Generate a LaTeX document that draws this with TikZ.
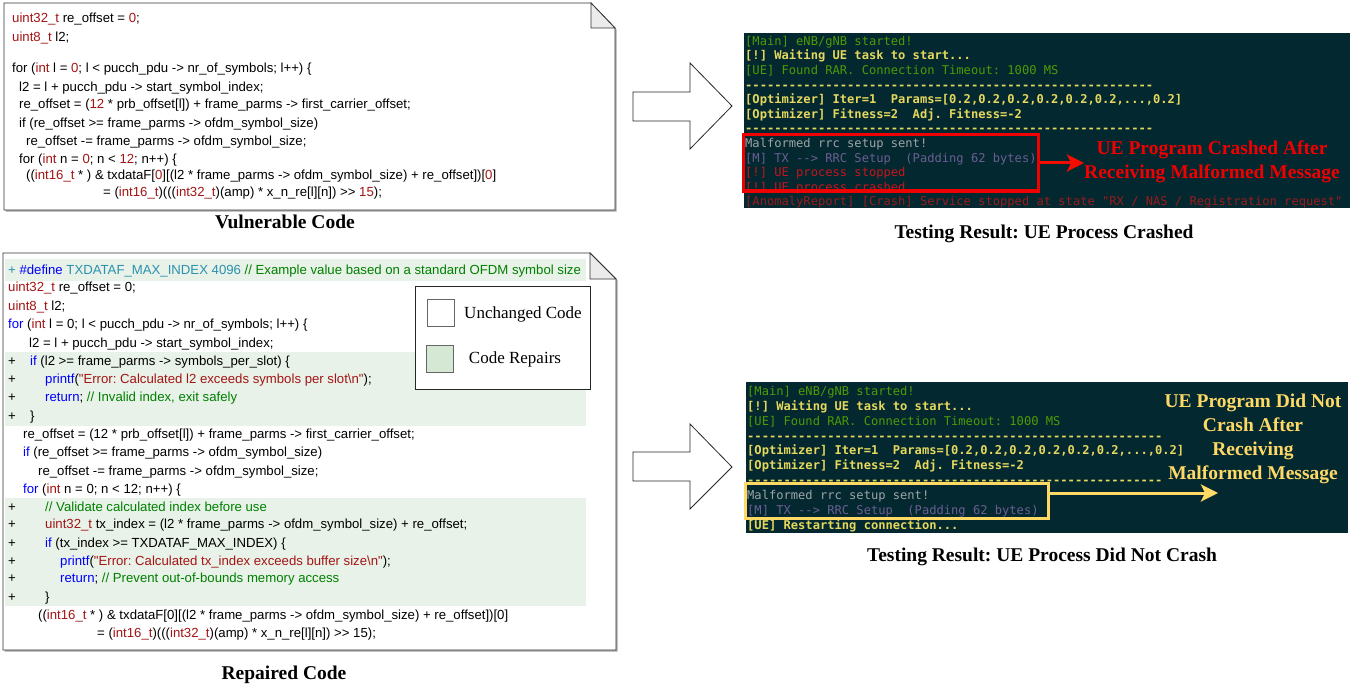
\documentclass[tikz,border=0pt]{standalone}
\usepackage{fontspec}
\setmainfont{Liberation Serif}
\setmonofont{DejaVu Sans Mono}
\newfontfamily\codefont{Liberation Sans}
\usetikzlibrary{arrows.meta}
\frenchspacing

\definecolor{ctypered}{HTML}{A31515}
\definecolor{ckeyblue}{HTML}{0000FF}
\definecolor{ccomgreen}{HTML}{008000}
\definecolor{cdefteal}{HTML}{2B91AF}
\definecolor{repairgreen}{HTML}{E8F2E8}
\definecolor{legendgreen}{HTML}{D5E8D4}
\definecolor{foldgray}{HTML}{EBEBEB}
\definecolor{termbg}{HTML}{032830}
\definecolor{tgreen}{HTML}{4E9A06}
\definecolor{tyellow}{HTML}{E5D85C}
\definecolor{tgray}{HTML}{9DA5A6}
\definecolor{tpurple}{HTML}{6B5E92}
\definecolor{tred}{HTML}{C4161C}
\definecolor{tdred}{HTML}{9B1B1B}
\definecolor{crashred}{HTML}{F00000}
\definecolor{okyellow}{HTML}{FFD966}

\newcommand{\ctype}[1]{\textcolor{ctypered}{#1}}
\newcommand{\cnum}[1]{\textcolor{ctypered}{#1}}
\newcommand{\cblue}[1]{\textcolor{ckeyblue}{#1}}
\newcommand{\ccom}[1]{\textcolor{ccomgreen}{#1}}
\newcommand{\cdef}[1]{\textcolor{cdefteal}{#1}}

\tikzset{
  notebox/.style={draw=black!80, fill=white, line width=0.8pt},
  noteshadow/.style={fill=black!35, shift={(1.5,1.5)}},
  codeline/.style={anchor=base west, inner sep=0pt, yshift=-4.5pt, font=\codefont\fontsize{13.18}{15}\selectfont},
  plusmark/.style={codeline},
  termline/.style={anchor=base west, inner sep=0pt, yshift=-5.3pt, font=\ttfamily\fontsize{12.1}{14}\selectfont},
  boldterm/.style={termline, font=\ttfamily\bfseries\fontsize{12.1}{14}\selectfont},
  caption/.style={anchor=base, inner sep=0pt, yshift=-6.5pt, font=\bfseries\fontsize{19.5}{23}\selectfont},
  legendtext/.style={anchor=base, inner sep=0pt, yshift=-5.8pt, font=\fontsize{17}{20}\selectfont},
  blockarrow/.style={draw=black!85, fill=white, line width=0.8pt},
  message/.style={align=center, inner sep=0pt, font=\bfseries\fontsize{19.5}{24}\selectfont},
}

\begin{document}
\begin{tikzpicture}[x=1pt,y=-1pt]
\useasboundingbox (0,0) rectangle (1356,687);

% vulnerable code
\fill[noteshadow] (4,3) -- (591,3) -- (615,28) -- (615,210) -- (4,210) -- cycle;
\draw[notebox] (4,3) -- (591,3) -- (615,28) -- (615,210) -- (4,210) -- cycle;
\filldraw[notebox, fill=foldgray] (591,3) -- (591,28) -- (615,28) -- cycle;
\node[codeline] (v1) at (12,18) {\ctype{uint32\_t} re\_offset = \cnum{0};};
\node[codeline] (v2) at (12,37) {\ctype{uint8\_t} l2;};
\node[codeline] (v3) at (12,68) {for (\ctype{int} l = \cnum{0}; l < pucch\_pdu -> nr\_of\_symbols; l++) \{};
\node[codeline] (v4) at (19,87) {l2 = l + pucch\_pdu -> start\_symbol\_index;};
\node[codeline] (v5) at (19,104) {re\_offset = (\cnum{12} * prb\_offset[l]) + frame\_parms -> first\_carrier\_offset;};
\node[codeline] (v6) at (19,123) {if (re\_offset >= frame\_parms -> ofdm\_symbol\_size)};
\node[codeline] (v7) at (26,141) {re\_offset -= frame\_parms -> ofdm\_symbol\_size;};
\node[codeline] (v8) at (19,159) {for (\ctype{int} n = \cnum{0}; n < \cnum{12}; n++) \{};
\node[codeline] (v9) at (26,175) {((\ctype{int16\_t} * ) \& txdataF[\cnum{0}][(l2 * frame\_parms -> ofdm\_symbol\_size) + re\_offset])[\cnum{0}]};
\node[codeline] (v10) at (103,192) {= (\ctype{int16\_t})(((\ctype{int32\_t})(amp) * x\_n\_re[l][n]) >> \cnum{15});};
\node[caption] (vcap) at (285,222) {Vulnerable Code};

% repaired code
\fill[noteshadow] (3,253) -- (590,253) -- (616,279) -- (616,650) -- (3,650) -- cycle;
\draw[notebox] (3,253) -- (590,253) -- (616,279) -- (616,650) -- (3,650) -- cycle;
\filldraw[notebox, fill=foldgray] (590,253) -- (590,279) -- (616,279) -- cycle;
\fill[repairgreen] (5,259) rectangle (586,281);
\fill[repairgreen] (5,352) rectangle (586,426);
\fill[repairgreen] (5,498) rectangle (586,606);
\node[codeline] (r1) at (8,270) {\cdef{+} \cblue{\#define} \cdef{TXDATAF\_MAX\_INDEX 4096} \ccom{// Example value based on a standard OFDM symbol size}};
\node[codeline] (r2) at (8,287) {\ctype{uint32\_t} re\_offset = 0;};
\node[codeline] (r3) at (8,306) {\ctype{uint8\_t} l2;};
\node[codeline] (r4) at (8,324) {\cblue{for} (\ctype{int} l = 0; l < pucch\_pdu -> nr\_of\_symbols; l++) \{};
\node[codeline] (r5) at (29,343) {l2 = l + pucch\_pdu -> start\_symbol\_index;};
\node[codeline] (r6) at (30,361) {\cblue{if} (l2 >= frame\_parms -> symbols\_per\_slot) \{};
\node[codeline] (r7) at (45,379) {\cblue{printf}(\textcolor{ctypered}{"Error: Calculated l2 exceeds symbols per slot\textbackslash n"});};
\node[codeline] (r8) at (45,397) {\cblue{return}; \ccom{// Invalid index, exit safely}};
\node[codeline] (r9) at (30,416) {\}};
\node[codeline] (r10) at (23,434) {re\_offset = (12 * prb\_offset[l]) + frame\_parms -> first\_carrier\_offset;};
\node[codeline] (r11) at (23,452) {\cblue{if} (re\_offset >= frame\_parms -> ofdm\_symbol\_size)};
\node[codeline] (r12) at (38,471) {re\_offset -= frame\_parms -> ofdm\_symbol\_size;};
\node[codeline] (r13) at (23,489) {\cblue{for} (\ctype{int} n = 0; n < 12; n++) \{};
\node[codeline] (r14) at (45,507) {\ccom{// Validate calculated index before use}};
\node[codeline] (r15) at (45,524) {\ctype{uint32\_t} tx\_index = (l2 * frame\_parms -> ofdm\_symbol\_size) + re\_offset;};
\node[codeline] (r16) at (45,543) {\cblue{if} (tx\_index >= TXDATAF\_MAX\_INDEX) \{};
\node[codeline] (r17) at (60,561) {\cblue{printf}(\textcolor{ctypered}{"Error: Calculated tx\_index exceeds buffer size\textbackslash n"});};
\node[codeline] (r18) at (60,578) {\cblue{return}; \ccom{// Prevent out-of-bounds memory access}};
\node[codeline] (r19) at (45,597) {\}};
\node[codeline] (r20) at (38,615) {((\ctype{int16\_t} * ) \& txdataF[0][(l2 * frame\_parms -> ofdm\_symbol\_size) + re\_offset])[0]};
\node[codeline] (r21) at (97,633) {= (\ctype{int16\_t})(((\ctype{int32\_t})(amp) * x\_n\_re[l][n]) >> 15);};
\node[plusmark] (p6) at (8,361) {+};
\node[plusmark] (p7) at (8,379) {+};
\node[plusmark] (p8) at (8,397) {+};
\node[plusmark] (p9) at (8,416) {+};
\node[plusmark] (p14) at (8,507) {+};
\node[plusmark] (p15) at (8,524) {+};
\node[plusmark] (p16) at (8,543) {+};
\node[plusmark] (p17) at (8,561) {+};
\node[plusmark] (p18) at (8,578) {+};
\node[plusmark] (p19) at (8,597) {+};
\node[caption] (rcap) at (284,673) {Repaired Code};

% legend
\node[draw=black!85, fill=white, line width=0.8pt, minimum width=175pt, minimum height=103pt, inner sep=0pt] (legend) at (502.5,337.5) {};
\node[draw=black!60, fill=white, line width=0.9pt, minimum size=27pt, inner sep=0pt] (unchbox) at (440.5,313) {};
\node[draw=black!60, fill=legendgreen, line width=0.9pt, minimum size=27pt, inner sep=0pt] (repbox) at (439.5,358.5) {};
\node[legendtext] (unchtext) at (523,313) {Unchanged Code};
\node[legendtext] (reptext) at (515,358) {Code Repairs};

% block arrows
\draw[blockarrow] (633,92) -- (690,92) -- (690,63) -- (732,106) -- (690,149) -- (690,121) -- (633,121) -- cycle;
\draw[blockarrow] (633,452) -- (690,452) -- (690,424) -- (732,467) -- (690,509) -- (690,481) -- (633,481) -- cycle;

% crashed terminal
\fill[termbg] (744,33) rectangle (1350,208);
\node[termline, text=tgreen] (t1) at (745,40) {[Main] eNB/gNB started!};
\node[boldterm, text=tyellow] (t2) at (745,54.6) {[!] Waiting UE task to start...};
\node[termline, text=tgreen] (t3) at (745,69.2) {[UE] Found RAR. Connection Timeout: 1000 MS};
\node[boldterm, text=tyellow] (t4) at (745,83.8) {--------------------------------------------------------};
\node[boldterm, text=tyellow] (t5) at (745,98.4) {[Optimizer] Iter=1 \ Params=[0.2,0.2,0.2,0.2,0.2,0.2,...,0.2]};
\node[boldterm, text=tyellow] (t6) at (745,113) {[Optimizer] Fitness=2 \ Adj. Fitness=-2};
\node[boldterm, text=tyellow] (t7) at (745,127.6) {--------------------------------------------------------};
\node[termline, text=tgray] (t8) at (745,142.2) {Malformed rrc setup sent!};
\node[termline, text=tpurple] (t9) at (745,156.8) {[M] TX --> RRC Setup \ (Padding 62 bytes)};
\node[termline, text=tred] (t10) at (745,171.4) {[!] UE process stopped};
\node[termline, text=tred] (t11) at (745,186) {[!] UE process crashed};
\node[termline, text=tdred] (t12) at (745,200.6) {[AnomalyReport] [Crash] Service stopped at state "RX / NAS / Registration request"};
\node[draw=crashred, line width=3pt, minimum width=295pt, minimum height=56pt, inner sep=0pt] (crashbox) at (890.5,163) {};
\node[message, text=crashred] (crashmsg) at (1212,162) {UE Program Crashed After\\Receiving Malformed Message};
\draw[line width=3pt, draw=crashred!90!orange, -{Stealth[length=17pt,width=17pt,inset=4pt]}] (crashbox.east) -- (crashbox.east -| crashmsg.west);
\node[caption] (tcap1) at (1044,232) {Testing Result: UE Process Crashed};

% not crashed terminal
\fill[termbg] (746,382) rectangle (1348,533);
\node[termline, text=tgreen] (s1) at (747,390) {[Main] eNB/gNB started!};
\node[boldterm, text=tyellow] (s2) at (747,404.9) {[!] Waiting UE task to start...};
\node[termline, text=tgreen] (s3) at (747,419.8) {[UE] Found RAR. Connection Timeout: 1000 MS};
\node[boldterm, text=tyellow] (s4) at (747,434.7) {---------------------------------------------------------};
\node[boldterm, text=tyellow] (s5) at (747,449.6) {[Optimizer] Iter=1 \ Params=[0.2,0.2,0.2,0.2,0.2,0.2,...,0.2]};
\node[boldterm, text=tyellow] (s6) at (747,464.5) {[Optimizer] Fitness=2 \ Adj. Fitness=-2};
\node[boldterm, text=tyellow] (s7) at (747,479.4) {---------------------------------------------------------};
\node[termline, text=tgray] (s8) at (747,494.3) {Malformed rrc setup sent!};
\node[termline, text=tpurple] (s9) at (747,509.2) {[M] TX --> RRC Setup \ (Padding 62 bytes)};
\node[boldterm, text=tyellow] (s10) at (747,524.1) {[UE] Restarting connection...};
\node[draw=okyellow, line width=3pt, minimum width=303pt, minimum height=35pt, inner sep=0pt] (okbox) at (896.5,500.5) {};
\node[message, text=okyellow] (okmsg) at (1253,439) {UE Program Did Not\\Crash After\\Receiving\\Malformed Message};
\coordinate (okend) at (1218,493);
\draw[line width=3pt, draw=okyellow, -{Stealth[length=17pt,width=17pt,inset=4pt]}] (okbox.east |- okend) -- (okend);
\node[caption] (tcap2) at (1042,555) {Testing Result: UE Process Did Not Crash};
\end{tikzpicture}
\end{document}
